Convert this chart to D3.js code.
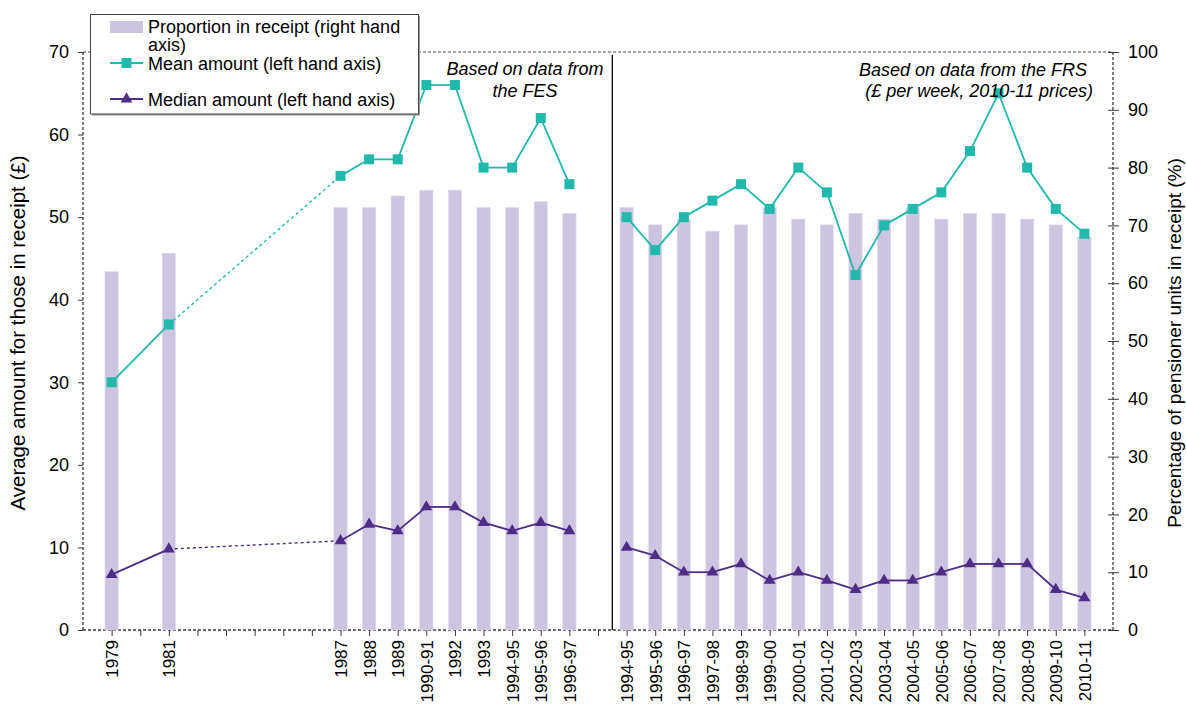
<!DOCTYPE html>
<html lang="en">
<head>
  <meta charset="UTF-8">
  <title>Pensioner receipts</title>
  <script src="https://cdn.jsdelivr.net/npm/d3@7/dist/d3.min.js"></script>
  <style>
    body { margin: 0; background: #fff; }
    svg { font-family: "Liberation Sans", Arial, sans-serif; }
    .tick text { fill: #000; }
  </style>
</head>

<body>
  <script>
    // x slots, "" means an empty slot (no survey year)
    var categories = ["1979", "", "1981", "", "", "", "", "", "1987", "1988", "1989", "1990-91", "1992", "1993",
      "1994-95", "1995-96", "1996-97", "",
      "1994-95", "1995-96", "1996-97", "1997-98", "1998-99", "1999-00", "2000-01", "2001-02", "2002-03",
      "2003-04", "2004-05", "2005-06", "2006-07", "2007-08", "2008-09", "2009-10", "2010-11"];

    // number of slots that belong to the FES part (the rest is FRS)
    var fesSlots = 18;

    // Proportion in receipt (%), right hand axis
    var proportion = [62.0, null, 65.2, null, null, null, null, null, 73.1, 73.1, 75.1, 76.1, 76.1, 73.1,
      73.1, 74.1, 72.1, null,
      73.1, 70.1, 71.1, 69.0, 70.1, 73.1, 71.1, 70.1, 72.1,
      71.1, 73.1, 71.1, 72.1, 72.1, 71.1, 70.1, 68.0];

    // Mean amount (£), left hand axis
    var mean = [30, null, 37, null, null, null, null, null, 55, 57, 57, 66, 66, 56,
      56, 62, 54, null,
      50, 46, 50, 52, 54, 51, 56, 53, 43,
      49, 51, 53, 58, 65, 56, 51, 48];

    // Median amount (£), left hand axis
    var median = [6.7, null, 9.8, null, null, null, null, null, 10.8, 12.8, 12, 14.9, 14.9, 13,
      12, 13, 12, null,
      10, 9, 7, 7, 8, 6, 7, 6, 4.9,
      6, 6, 7, 8, 8, 8, 4.9, 3.9];

    // links drawn dashed (gap in the survey years)
    var dashedAfter = ["1981"];

    var leftTicks = [0, 10, 20, 30, 40, 50, 60, 70];
    var rightTicks = [0, 10, 20, 30, 40, 50, 60, 70, 80, 90, 100];

    var meanColor = "#20b9ac";
    var medianColor = "#4d2d86";
    var barColor = "#cdc4e1";

    var svg = d3.select("body").append("svg")
      .attr("width", 1186)
      .attr("height", 709);

    /* SCALES */
    let scaleX = d3.scalePoint()
      .domain(d3.range(categories.length))
      .range([83, 1113])
      .padding(1);

    let scaleY = d3.scaleLinear().domain([0, 70]).range([630, 52]);
    let scaleY2 = d3.scaleLinear().domain([0, 100]).range([630, 52]);

    let step = scaleX.step();
    let barW = step * 0.465;

    /* FRAME */
    // dashed plot border, Excel style
    svg.append("line")
      .attr("x1", 83).attr("x2", 1113).attr("y1", 52).attr("y2", 52)
      .attr("stroke", "#8a8a8a").attr("stroke-width", 1.3).attr("stroke-dasharray", "3,2");
    [[83, 83, 52, 630], [1113, 1113, 52, 630], [83, 1113, 630, 630]].forEach(p => {
      svg.append("line")
        .attr("x1", p[0]).attr("x2", p[1]).attr("y1", p[2]).attr("y2", p[3])
        .attr("stroke", "#3a3a3a").attr("stroke-width", 1.3).attr("stroke-dasharray", "3,2");
    });

    /* BARS */
    var barData = proportion.map((v, i) => ({i: i, v: v})).filter(d => d.v != null);
    svg.append("g").selectAll("rect")
      .data(barData)
      .enter()
      .append("rect")
      .attr("x", d => scaleX(d.i) - barW / 2)
      .attr("y", d => scaleY2(d.v))
      .attr("width", barW)
      .attr("height", d => scaleY2(0) - scaleY2(d.v))
      .attr("fill", barColor)
      .attr("stroke", "#e2dcee")
      .attr("stroke-width", 0.6);

    // divider between FES and FRS
    let divX = (scaleX(fesSlots - 1) + scaleX(fesSlots)) / 2;
    svg.append("line")
      .attr("x1", divX).attr("x2", divX)
      .attr("y1", 55).attr("y2", 630)
      .attr("stroke", "#000").attr("stroke-width", 1.3);

    /* LINES */
    function links(values) {
      var pts = values.map((v, i) => ({i: i, v: v})).filter(d => d.v != null);
      var out = [];
      for (var k = 1; k < pts.length; k++) {
        var a = pts[k - 1], b = pts[k];
        // no link across the two surveys
        if ((a.i < fesSlots) != (b.i < fesSlots)) continue;
        out.push({a: a, b: b, dashed: dashedAfter.indexOf(categories[a.i]) >= 0});
      }
      return out;
    }

    function drawSeries(values, axis, color, symbol, size) {
      var g = svg.append("g");
      g.selectAll("line")
        .data(links(values))
        .enter()
        .append("line")
        .attr("x1", d => scaleX(d.a.i))
        .attr("y1", d => axis(d.a.v))
        .attr("x2", d => scaleX(d.b.i))
        .attr("y2", d => axis(d.b.v))
        .attr("stroke", color)
        .attr("stroke-width", d => d.dashed ? 1.4 : 1.8)
        .attr("stroke-dasharray", d => d.dashed ? "3,3" : null);

      g.selectAll("path")
        .data(values.map((v, i) => ({i: i, v: v})).filter(d => d.v != null))
        .enter()
        .append("path")
        .attr("d", d3.symbol().type(symbol).size(size))
        .attr("transform", d => "translate(" + scaleX(d.i) + "," + axis(d.v) + ")")
        .attr("fill", color);
    }

    drawSeries(mean, scaleY, meanColor, d3.symbolSquare, 100);
    drawSeries(median, scaleY, medianColor, d3.symbolTriangle, 60);

    /* AXIS */
    let axisX = d3.axisBottom(scaleX)
      .tickSizeInner(6)
      .tickSizeOuter(0)
      .tickFormat(i => categories[i]);

    let gx = svg.append("g")
      .attr("transform", "translate(0,630)")
      .call(axisX);
    gx.select(".domain").remove();
    gx.selectAll(".tick line").attr("stroke", "#3a3a3a");
    gx.selectAll(".tick text")
      .attr("font-size", 17)
      .attr("text-anchor", "end")
      .attr("transform", "rotate(-90)")
      .attr("x", -10)
      .attr("y", 0)
      .attr("dy", "0.35em");

    let gy = svg.append("g")
      .attr("transform", "translate(83,0)")
      .call(d3.axisLeft(scaleY).tickValues(leftTicks).tickSizeInner(5).tickSizeOuter(0).tickPadding(9));
    gy.select(".domain").remove();
    gy.selectAll(".tick line").attr("stroke", "#3a3a3a");
    gy.selectAll(".tick text").attr("font-size", 18);

    let gy2 = svg.append("g")
      .attr("transform", "translate(1113,0)")
      .call(d3.axisRight(scaleY2).tickValues(rightTicks).tickSizeInner(6).tickSizeOuter(0).tickPadding(9));
    gy2.select(".domain").remove();
    gy2.selectAll(".tick line").attr("x1", -5).attr("stroke", "#3a3a3a");
    gy2.selectAll(".tick text").attr("font-size", 18);

    // axis titles
    svg.append("text")
      .attr("transform", "translate(25,333) rotate(-90)")
      .attr("text-anchor", "middle")
      .attr("font-size", 20.5)
      .text("Average amount for those in receipt (£)");

    svg.append("text")
      .attr("transform", "translate(1181,343) rotate(-90)")
      .attr("text-anchor", "middle")
      .attr("font-size", 19)
      .text("Percentage of pensioner units in receipt (%)");

    /* NOTES */
    var notes = svg.append("g")
      .attr("font-size", 18)
      .attr("font-style", "italic");
    notes.append("text").attr("x", 525).attr("y", 75).attr("text-anchor", "middle").text("Based on data from");
    notes.append("text").attr("x", 525).attr("y", 97).attr("text-anchor", "middle").text("the FES");
    notes.append("text").attr("x", 1087).attr("y", 76).attr("text-anchor", "end").text("Based on data from the FRS");
    notes.append("text").attr("x", 1093).attr("y", 97).attr("text-anchor", "end").text("(£ per week, 2010-11 prices)");

    /* LEGEND */
    var legend = svg.append("g").attr("font-size", 18);
    legend.append("rect")
      .attr("x", 92).attr("y", 16).attr("width", 328).attr("height", 99.5)
      .attr("fill", "#9a9a9a");
    legend.append("rect")
      .attr("x", 90.5).attr("y", 14.5).attr("width", 328).attr("height", 99.5)
      .attr("fill", "#fff").attr("stroke", "#444").attr("stroke-width", 1);

    legend.append("rect")
      .attr("x", 110).attr("y", 21).attr("width", 33).attr("height", 12)
      .attr("fill", barColor);
    legend.append("text").attr("x", 148).attr("y", 33).text("Proportion in receipt (right hand");
    legend.append("text").attr("x", 148).attr("y", 51).text("axis)");

    [[meanColor, d3.symbolSquare, 100, 63, "Mean amount (left hand axis)"],
     [medianColor, d3.symbolTriangle, 60, 99, "Median amount (left hand axis)"]].forEach(l => {
      legend.append("line")
        .attr("x1", 110).attr("x2", 143).attr("y1", l[3]).attr("y2", l[3])
        .attr("stroke", l[0]).attr("stroke-width", 1.8);
      legend.append("path")
        .attr("d", d3.symbol().type(l[1]).size(l[2]))
        .attr("transform", "translate(126.5," + l[3] + ")")
        .attr("fill", l[0]);
      legend.append("text").attr("x", 148).attr("y", l[3] + 6.5).text(l[4]);
    });
  </script>
</body>
</html>
